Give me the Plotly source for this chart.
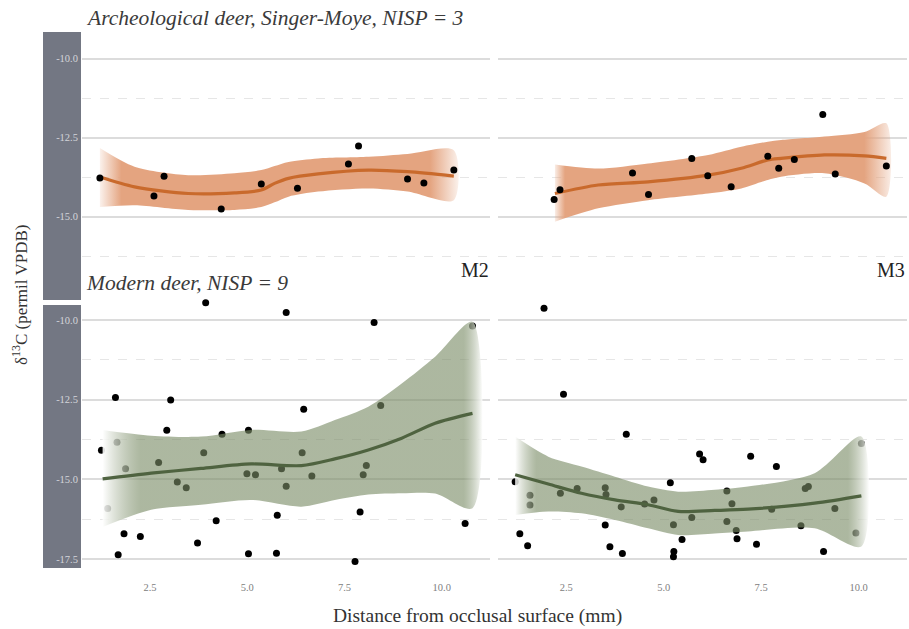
import plotly.graph_objects as go

W, H = 909, 629

# ---------------- data ----------------
# Archeological deer, M2
am2_x = [1.21, 2.60, 2.86, 4.33, 5.36, 6.29, 7.60, 7.86, 9.12, 9.54, 10.31]
am2_y = [-13.78, -14.35, -13.72, -14.76, -13.97, -14.10, -13.34, -12.77, -13.81, -13.94, -13.53]
am2_sx = [1.21, 2.10, 3.48, 4.67, 5.36, 5.70, 6.06, 6.82, 8.12, 9.12, 10.31]
am2_fit = [-13.75, -14.06, -14.27, -14.25, -14.16, -13.95, -13.79, -13.65, -13.53, -13.58, -13.72]
am2_hi = [-12.83, -13.42, -13.69, -13.63, -13.53, -13.40, -13.27, -13.16, -13.11, -13.02, -12.90]
am2_lo = [-14.70, -14.64, -14.79, -14.79, -14.70, -14.55, -14.37, -14.21, -14.11, -14.21, -14.48]

# Archeological deer, M3
am3_x = [2.19, 2.34, 4.20, 4.61, 5.72, 6.13, 6.73, 7.67, 7.95, 8.35, 9.08, 9.40, 10.71]
am3_y = [-14.46, -14.15, -13.62, -14.30, -13.16, -13.71, -14.06, -13.09, -13.47, -13.19, -11.77, -13.65, -13.40]
am3_sx = [2.21, 3.32, 4.60, 6.14, 6.99, 7.67, 8.01, 9.12, 10.15, 10.71]
am3_fit = [-14.27, -14.00, -13.90, -13.69, -13.47, -13.21, -13.16, -13.05, -13.08, -13.16]
am3_hi = [-13.35, -13.48, -13.32, -13.05, -12.79, -12.63, -12.58, -12.47, -12.32, -12.05]
am3_lo = [-15.16, -14.74, -14.48, -14.27, -14.11, -13.84, -13.74, -13.63, -13.95, -14.37]

# Modern deer, M2
mm2_x = [3.93, 6.00, 8.26, 1.61, 3.03, 6.45, 8.43, 2.93, 5.03, 4.35, 1.65, 1.25, 3.88,
         6.41, 2.72, 1.87, 5.88, 8.06, 4.99, 5.21, 7.98, 6.66, 3.20, 3.43, 6.00, 1.41,
         7.90, 5.77, 4.20, 1.83, 2.25, 3.72, 1.68, 5.03, 5.75, 7.77, 10.79, 10.60]
mm2_y = [-9.46, -9.76, -10.08, -12.43, -12.51, -12.80, -12.68, -13.46, -13.46, -13.59,
         -13.84, -14.09, -14.17, -14.17, -14.47, -14.67, -14.67, -14.57, -14.83, -14.86,
         -14.86, -14.90, -15.09, -15.27, -15.22, -15.92, -16.03, -16.13, -16.30, -16.71,
         -16.80, -17.00, -17.37, -17.34, -17.32, -17.58, -10.19, -16.39]
mm2_sx = [1.28, 2.53, 3.81, 5.10, 6.39, 7.25, 8.11, 8.97, 9.83, 10.79]
mm2_fit = [-14.99, -14.81, -14.66, -14.52, -14.57, -14.36, -14.08, -13.71, -13.24, -12.93]
mm2_hi = [-13.45, -13.63, -13.66, -13.45, -13.50, -13.14, -12.72, -11.99, -11.15, -10.05]
mm2_lo = [-16.50, -15.96, -15.80, -15.65, -15.86, -15.65, -15.48, -15.44, -15.45, -15.91]

# Modern deer, M3
mm3_x = [1.93, 2.43, 4.04, 10.07, 5.92, 6.01, 7.23, 7.89, 1.19, 5.17, 8.63, 8.71, 1.57,
         1.57, 2.35, 2.78, 3.50, 3.52, 3.91, 4.51, 4.75, 6.62, 6.75, 7.77, 5.72, 6.62,
         5.25, 6.86, 9.39, 8.52, 3.50, 9.93, 1.31, 6.88, 5.47, 1.51, 3.62, 7.38, 3.94,
         5.26, 5.25, 9.10]
mm3_y = [-9.63, -12.33, -13.59, -13.88, -14.21, -14.39, -14.28, -14.60, -15.08, -15.11,
         -15.29, -15.23, -15.50, -15.81, -15.44, -15.29, -15.27, -15.48, -15.87, -15.78,
         -15.65, -15.37, -15.77, -15.94, -16.20, -16.33, -16.43, -16.61, -15.92, -16.46,
         -16.44, -16.69, -16.71, -16.87, -16.89, -17.09, -17.12, -17.04, -17.33, -17.27,
         -17.43, -17.27]
mm3_sx = [1.19, 2.04, 2.89, 3.75, 4.60, 5.37, 6.31, 7.16, 8.87, 10.07]
mm3_fit = [-14.86, -15.15, -15.44, -15.65, -15.80, -16.01, -15.98, -15.94, -15.75, -15.52]
mm3_hi = [-13.66, -14.29, -14.60, -14.92, -15.23, -15.39, -15.33, -15.23, -14.81, -13.66]
mm3_lo = [-16.12, -16.01, -16.07, -16.28, -16.54, -16.75, -16.70, -16.64, -16.54, -17.11]

y_ticks = [-10.0, -12.5, -15.0, -17.5]
x_ticks = [2.5, 5.0, 7.5, 10.0]
col_labels = ["M2", "M3"]
row_labels = ["Archeological deer, Singer-Moye, NISP = 3", "Modern deer, NISP = 9"]
x_title = "Distance from occlusal surface (mm)"
y_title = "δ<sup>13</sup>C (permil VPDB)"

# ---------------- styling ----------------
SERIF = "Liberation Serif, Times New Roman, serif"
OR_LINE = "#c96a2c"
OR_FILL = (228, 164, 128)
GR_LINE = "#4f6340"
GR_FILL = (122, 140, 102)


def px_x(p):
    return p / W


def px_y(p):
    return 1 - p / H


fig = go.Figure()


def ribbon(xs, hi, lo, rgb, alpha, edge, fade_l, fade_r, axis):
    r, g, b = rgb
    full = f"rgba({r},{g},{b},{alpha})"
    return go.Scatter(
        x=list(xs) + list(xs)[::-1], y=list(hi) + list(lo)[::-1],
        mode="lines", line=dict(width=0, shape="spline", smoothing=0.8),
        fill="toself", fillcolor=full,
        fillgradient=dict(type="horizontal",
                          colorscale=[[0, edge], [fade_l, full], [1 - fade_r, full], [1, edge]]),
        hoverinfo="skip", showlegend=False, xaxis=axis[0], yaxis=axis[1])


def pts(x, y, axis):
    return go.Scatter(x=x, y=y, mode="markers",
                      marker=dict(color="black", size=7, line=dict(width=0)),
                      showlegend=False, cliponaxis=False, xaxis=axis[0], yaxis=axis[1])


def fitline(x, y, color, axis):
    return go.Scatter(x=x, y=y, mode="lines",
                      line=dict(color=color, width=3.2, shape="spline", smoothing=0.8),
                      showlegend=False, hoverinfo="skip", xaxis=axis[0], yaxis=axis[1])


# top-left: archeological M2
a = ("x", "y")
fig.add_trace(ribbon(am2_sx, am2_hi, am2_lo, OR_FILL, 1.0, "rgba(228,164,128,0.15)", 0.06, 0.08, a))
fig.add_trace(fitline(am2_sx, am2_fit, OR_LINE, a))
fig.add_trace(pts(am2_x, am2_y, a))
# top-right: archeological M3
a = ("x2", "y2")
fig.add_trace(ribbon(am3_sx, am3_hi, am3_lo, OR_FILL, 1.0, "rgba(228,164,128,0.2)", 0.03, 0.08, a))
fig.add_trace(fitline(am3_sx, am3_fit, OR_LINE, a))
fig.add_trace(pts(am3_x, am3_y, a))
# bottom-left: modern M2
a = ("x3", "y3")
fig.add_trace(pts(mm2_x, mm2_y, a))
fig.add_trace(ribbon(mm2_sx, mm2_hi, mm2_lo, GR_FILL, 0.62, "rgba(255,255,255,0.9)", 0.1, 0.05, a))
fig.add_trace(fitline(mm2_sx, mm2_fit, GR_LINE, a))
# bottom-right: modern M3
a = ("x4", "y4")
fig.add_trace(pts(mm3_x, mm3_y, a))
fig.add_trace(ribbon(mm3_sx, mm3_hi, mm3_lo, GR_FILL, 0.62, "rgba(255,255,255,0.85)", 0.06, 0.06, a))
fig.add_trace(fitline(mm3_sx, mm3_fit, GR_LINE, a))

# ---------------- axes ----------------
xdom_l = [px_x(82), px_x(490)]
xdom_r = [px_x(498), px_x(907)]
ydom_t = [px_y(270), px_y(32)]
ydom_b = [px_y(570), px_y(300)]
xr = [0.75, 11.24]
yr_t = [-16.69, -9.16]
yr_b = [-17.85, -9.37]

grid = dict(showgrid=True, gridcolor="#dcdcdc", gridwidth=1.6,
            minor=dict(dtick=1.25, tick0=-10, showgrid=True, gridcolor="#e6e6e6",
                       gridwidth=1.2, griddash="dash"))


def xax(dom, anchor, labels):
    return dict(domain=dom, range=xr, anchor=anchor, showgrid=False, zeroline=False,
                showline=False, ticks="", tickvals=x_ticks, ticktext=[f"{v:.1f}" for v in x_ticks],
                showticklabels=labels, ticklabelstandoff=9,
                tickfont=dict(family=SERIF, size=10.5, color="#808080"))


def yax(dom, rng, anchor, labels):
    d = dict(domain=dom, range=rng, anchor=anchor, zeroline=False, showline=False,
             ticks="", tickmode="array", tickvals=y_ticks, ticktext=[f"{v:.1f}" for v in y_ticks],
             showticklabels=labels, ticklabelstandoff=3,
             tickfont=dict(family=SERIF, size=10.5, color="#d3d5da"))
    d.update(grid)
    return d


fig.update_layout(
    width=W, height=H, margin=dict(l=0, r=0, t=0, b=0),
    paper_bgcolor="white", plot_bgcolor="white", showlegend=False,
    xaxis=xax(xdom_l, "y", False), yaxis=yax(ydom_t, yr_t, "x", True),
    xaxis2=xax(xdom_r, "y2", False), yaxis2=yax(ydom_t, yr_t, "x2", False),
    xaxis3=xax(xdom_l, "y3", True), yaxis3=yax(ydom_b, yr_b, "x3", True),
    xaxis4=xax(xdom_r, "y4", True), yaxis4=yax(ydom_b, yr_b, "x4", False),
)

# dark strips behind the y tick labels
for y0, y1 in [(32, 300), (305, 568)]:
    fig.add_shape(type="rect", xref="paper", yref="paper",
                  x0=px_x(43), x1=px_x(81), y0=px_y(y1), y1=px_y(y0),
                  fillcolor="#737783", line=dict(width=0), layer="below")

# ---------------- text ----------------
ann = []
ann.append(dict(text=f"<i>{row_labels[0]}</i>", x=px_x(84), y=px_y(18), xanchor="left",
                yanchor="middle", font=dict(family=SERIF, size=21.5, color="#3a3a3a")))
ann.append(dict(text=f"<i>{row_labels[1]}</i>", x=px_x(84), y=px_y(283), xanchor="left",
                yanchor="middle", font=dict(family=SERIF, size=21.5, color="#3a3a3a")))
ann.append(dict(text=col_labels[0], x=px_x(491), y=px_y(270), xanchor="right",
                yanchor="middle", font=dict(family=SERIF, size=20, color="#222222")))
ann.append(dict(text=col_labels[1], x=px_x(907), y=px_y(270), xanchor="right",
                yanchor="middle", font=dict(family=SERIF, size=20, color="#222222")))
ann.append(dict(text=x_title, x=px_x(477), y=px_y(616), xanchor="center", yanchor="middle",
                font=dict(family=SERIF, size=19.5, color="#333333")))
ann.append(dict(text=y_title, x=px_x(20), y=px_y(295), xanchor="center", yanchor="middle",
                textangle=-90, font=dict(family=SERIF, size=17, color="#333333")))
for a_ in ann:
    a_.update(xref="paper", yref="paper", showarrow=False)
fig.update_layout(annotations=ann)

fig.write_html("out.html")
